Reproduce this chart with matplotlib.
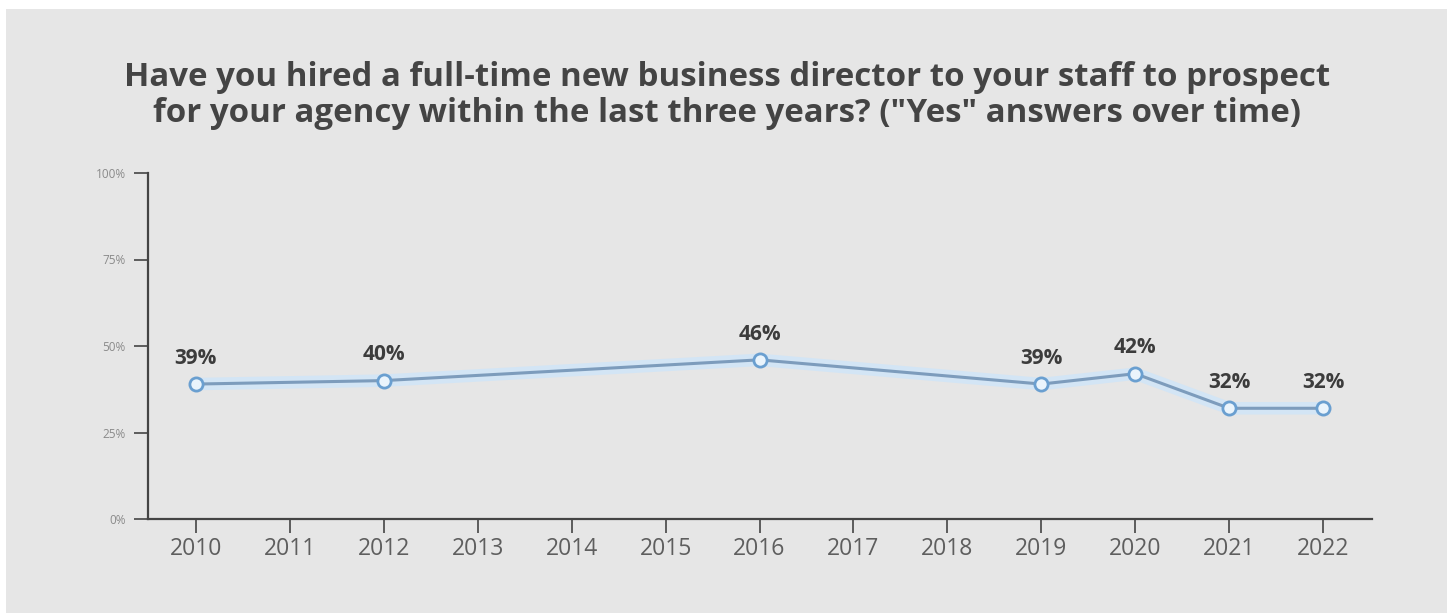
import matplotlib.pyplot as plt
from matplotlib.patches import Rectangle

plt.rcParams['font.family'] = ['Open Sans', 'DejaVu Sans']

years = [2010, 2012, 2016, 2019, 2020, 2021, 2022]
yes_pct = [39, 40, 46, 39, 42, 32, 32]
tick_years = list(range(2010, 2023))
y_ticks = [0, 25, 50, 75, 100]
title = ('Have you hired a full-time new business director to your staff to prospect\n'
         'for your agency within the last three years? ("Yes" answers over time)')

W, H = 1447, 613
fig = plt.figure(figsize=(W / 100, H / 100), dpi=100)
fig.patch.set_facecolor('white')

# grey card behind the chart
fig.patches.append(Rectangle((6 / W, 0), 1, 1 - 9 / H, transform=fig.transFigure,
                             facecolor='#e6e6e6', edgecolor='none', zorder=-1))

left, right = 148 / W, 1372 / W
bottom, top = 1 - 519 / H, 1 - 173 / H
ax = fig.add_axes([left, bottom, right - left, top - bottom])
ax.set_facecolor('none')

ax.set_xlim(2009.49, 2022.52)
ax.set_ylim(0, 100)

# soft halo under the line
ax.plot(years, yes_pct, color='#d3e5f5', lw=9, solid_capstyle='round', zorder=2)
ax.plot(years, yes_pct, color='#7d9cbc', lw=2.2, zorder=3)
ax.plot(years, yes_pct, ls='none', marker='o', ms=9.5, mfc='#eaf4fc',
        mec='#6a9fd0', mew=2, zorder=4)

for x, v in zip(years, yes_pct):
    ax.annotate(f'{v}%', (x, v), xytext=(0, 18.5), textcoords='offset points',
                ha='center', va='center', fontsize=15, fontweight='bold',
                color='#3c3c3c')

ax.set_xticks(tick_years)
ax.set_xticklabels([str(y) for y in tick_years], fontsize=16.5, color='#5e5e5e')
ax.set_yticks(y_ticks)
ax.set_yticklabels([f'{v}%' for v in y_ticks], fontsize=8.5, color='#8a8a8a')

ax.tick_params(axis='x', length=10, width=1.2, color='#444444', pad=3)
ax.tick_params(axis='y', length=10, width=1.2, color='#444444', pad=6)

for side in ('top', 'right'):
    ax.spines[side].set_visible(False)
for side in ('left', 'bottom'):
    ax.spines[side].set_color('#444444')
    ax.spines[side].set_linewidth(1.6)

fig.text(727 / W, 1 - 95 / H, title, ha='center', va='center', fontsize=23.8,
         fontweight='bold', color='#444444', linespacing=1.12)

fig.savefig('out.png', dpi=100)
